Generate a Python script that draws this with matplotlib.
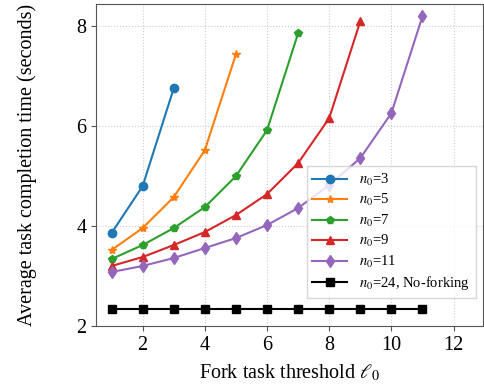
import matplotlib
matplotlib.use("Agg")
import matplotlib.pyplot as plt

plt.rcParams["font.family"] = ["Liberation Serif", "DejaVu Serif"]
plt.rcParams["mathtext.fontset"] = "stix"

# data
thr = [1, 2, 3, 4, 5, 6, 7, 8, 9, 10, 11]
t_n3 = [3.86, 4.80, 6.76]
t_n5 = [3.52, 3.96, 4.58, 5.52, 7.44]
t_n7 = [3.34, 3.62, 3.96, 4.38, 5.00, 5.92, 7.86]
t_n9 = [3.20, 3.38, 3.62, 3.88, 4.22, 4.64, 5.26, 6.16, 8.10]
t_n11 = [3.08, 3.20, 3.36, 3.56, 3.76, 4.02, 4.36, 4.82, 5.36, 6.26, 8.20]
t_nofork = [2.34] * 11

series = [
    (t_n3, "o", "tab:blue", r"$n_0$=3"),
    (t_n5, "*", "tab:orange", r"$n_0$=5"),
    (t_n7, "p", "tab:green", r"$n_0$=7"),
    (t_n9, "^", "tab:red", r"$n_0$=9"),
    (t_n11, "d", "tab:purple", r"$n_0$=11"),
    (t_nofork, "s", "black", r"$n_0$=24, No-forking"),
]

fig, ax = plt.subplots(figsize=(4.85, 3.88), dpi=100)
for vals, mk, col, lab in series:
    ax.plot(thr[:len(vals)], vals, marker=mk, color=col, label=lab,
            linewidth=1.5, markersize=6)

ax.set_xlim(0.5, 12.95)
ax.set_ylim(2, 8.45)
ax.set_xticks([2, 4, 6, 8, 10, 12])
ax.set_yticks([2, 4, 6, 8])
ax.grid(True, linestyle=":", color="#cccccc", linewidth=0.8)
for s in ax.spines.values():
    s.set_color("#555555")
ax.tick_params(labelsize=14.5, color="#555555")
ax.set_xlabel(r"Fork task threshold $\ell_0$", fontsize=14.5, labelpad=6)
ax.set_ylabel("Average task completion time (seconds)", fontsize=14.5,
              labelpad=28)
ax.legend(loc="lower right", bbox_to_anchor=(1.0, 0.064), fontsize=10.5,
          handlelength=2.4, labelspacing=0.3, borderaxespad=0.5,
          fancybox=False, framealpha=0.8)

plt.subplots_adjust(left=0.198, right=0.996, top=0.99, bottom=0.16)
plt.savefig("out.png")
